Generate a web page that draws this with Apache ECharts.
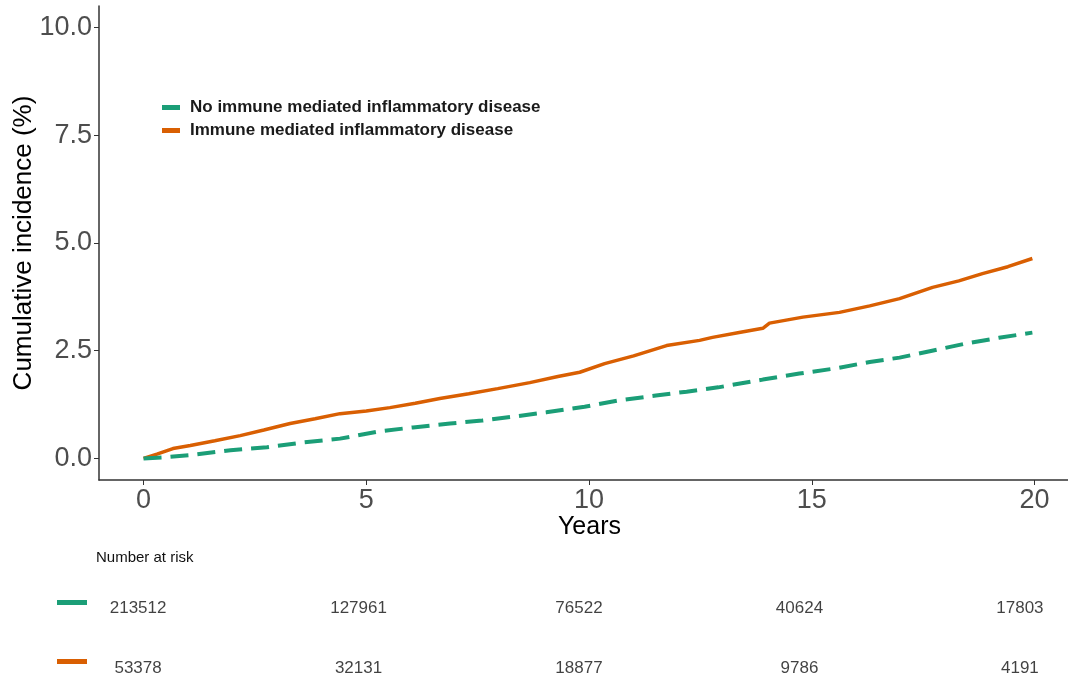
<!DOCTYPE html>
<html lang="en">
<head>
  <meta charset="UTF-8">
  <script src="https://cdn.jsdelivr.net/npm/echarts@6/dist/echarts.min.js"></script>
</head>
<body style="margin:0;background:#fff;">
<div id="main" style="width:1068px;height:680px;"></div>

<script>
  // curve points: [years, cumulative incidence %]
  var imidCurve = [
    [0,0],[0.3,0.1],[0.66,0.23],[1.05,0.3],[1.6,0.41],[2.17,0.53],[2.7,0.66],[3.29,0.81],
    [3.85,0.92],[4.41,1.04],[5.0,1.1],[5.53,1.18],[6.1,1.28],[6.65,1.39],[7.3,1.5],[7.95,1.62],
    [8.67,1.76],[9.3,1.9],[9.79,2.0],[10.35,2.2],[11.0,2.38],[11.74,2.62],[12.48,2.74],[12.77,2.81],
    [13.4,2.93],[13.9,3.02],[14.05,3.14],[14.8,3.28],[15.62,3.39],[16.3,3.54],[16.97,3.71],
    [17.71,3.97],[18.3,4.12],[18.83,4.29],[19.4,4.45],[19.95,4.64]
  ];
  var noImidCurve = [
    [0,0],[0.5,0.03],[1.05,0.08],[1.95,0.19],[2.77,0.26],[3.58,0.37],[4.41,0.46],[5.3,0.63],
    [6.05,0.72],[6.88,0.81],[7.6,0.88],[8.3,0.97],[9.04,1.07],[9.9,1.2],[10.69,1.35],[11.5,1.46],
    [12.19,1.55],[12.9,1.65],[13.9,1.83],[14.72,1.97],[15.6,2.1],[16.3,2.24],[16.97,2.34],
    [17.7,2.5],[18.47,2.67],[19.2,2.8],[19.95,2.92]
  ];
  var seriesNames = ['No immune mediated inflammatory disease', 'Immune mediated inflammatory disease'];
  var yTicks = [0, 2.5, 5, 7.5, 10];
  var xTicks = [0, 5, 10, 15, 20];

  // number at risk table
  var riskTimes = [0, 5, 10, 15, 20];
  var riskNoImid = [213512, 127961, 76522, 40624, 17803];
  var riskImid = [53378, 32131, 18877, 9786, 4191];

  var green = '#1B9E77', orange = '#D95F02';
  var font = 'Liberation Sans, Arial, sans-serif';

  var riskRow = function (vals, row) {
    return vals.map(function (v, i) { return {value: [riskTimes[i], row], label: {formatter: String(v)}}; });
  };

  var chart = echarts.init(document.getElementById('main'));
  chart.setOption({
    animation: false,
    textStyle: {fontFamily: font},
    title: {
      text: 'Number at risk', left: 96, top: 550, padding: 0,
      textStyle: {fontSize: 15, fontWeight: 'normal', color: '#111', fontFamily: font}
    },
    legend: {
      data: seriesNames, orient: 'vertical', left: 157, top: 93,
      icon: 'rect', itemWidth: 18, itemHeight: 5, itemGap: 4,
      textStyle: {fontSize: 17, fontWeight: 'bold', color: '#1a1a1a', lineHeight: 19, padding: [0, 0, 0, 5]}
    },
    grid: [
      {left: 99, right: 0, top: 6, height: 474, outerBoundsMode: 'none'},
      {left: 94, right: 4, top: 608, height: 60, outerBoundsMode: 'none'}
    ],
    xAxis: [{
      type: 'value', gridIndex: 0, min: -1, max: 20.75,
      name: 'Years', nameLocation: 'middle', nameGap: 35, nameMoveOverlap: false,
      nameTextStyle: {fontSize: 25, color: '#000', padding: [0, 0, 0, 12]},
      axisLine: {show: true, onZero: false, lineStyle: {color: '#333', width: 1.5}},
      axisTick: {show: true, length: 5, lineStyle: {color: '#333'}, customValues: xTicks},
      axisLabel: {fontSize: 27, color: '#4d4d4d', margin: 7, customValues: xTicks},
      splitLine: {show: false}
    }, {
      type: 'value', gridIndex: 1, min: -1, max: 21, show: false
    }],
    yAxis: [{
      type: 'value', gridIndex: 0, min: -0.5, max: 10.5,
      name: 'Cumulative incidence (%)', nameLocation: 'middle', nameGap: 62, nameMoveOverlap: false,
      nameTextStyle: {fontSize: 26, color: '#000'},
      axisLine: {show: true, onZero: false, lineStyle: {color: '#333', width: 1.5}},
      axisTick: {show: true, length: 5, lineStyle: {color: '#333'}, customValues: yTicks},
      axisLabel: {fontSize: 27, color: '#4d4d4d', margin: 7, customValues: yTicks,
        formatter: function (v) { return v.toFixed(1); }},
      splitLine: {show: false}
    }, {
      type: 'value', gridIndex: 1, min: 0, max: 1, inverse: true, show: false
    }],
    series: [{
      name: seriesNames[1], type: 'line', data: imidCurve, showSymbol: false,
      color: orange, lineStyle: {color: orange, width: 3.5}, z: 2
    }, {
      name: seriesNames[0], type: 'line', data: noImidCurve, showSymbol: false,
      color: green, lineStyle: {color: green, width: 4, type: [18, 9]}, z: 3
    }, {
      type: 'scatter', xAxisIndex: 1, yAxisIndex: 1, symbolSize: 1,
      itemStyle: {color: 'rgba(0,0,0,0)'}, silent: true,
      label: {show: true, position: 'inside', fontSize: 17, color: '#111'},
      data: riskRow(riskNoImid, 0).concat(riskRow(riskImid, 1))
    }],
    graphic: [
      {type: 'rect', left: 57, top: 600, shape: {width: 30, height: 5}, style: {fill: green}},
      {type: 'rect', left: 57, top: 659, shape: {width: 30, height: 5}, style: {fill: orange}}
    ]
  });
</script>
</body>
</html>
